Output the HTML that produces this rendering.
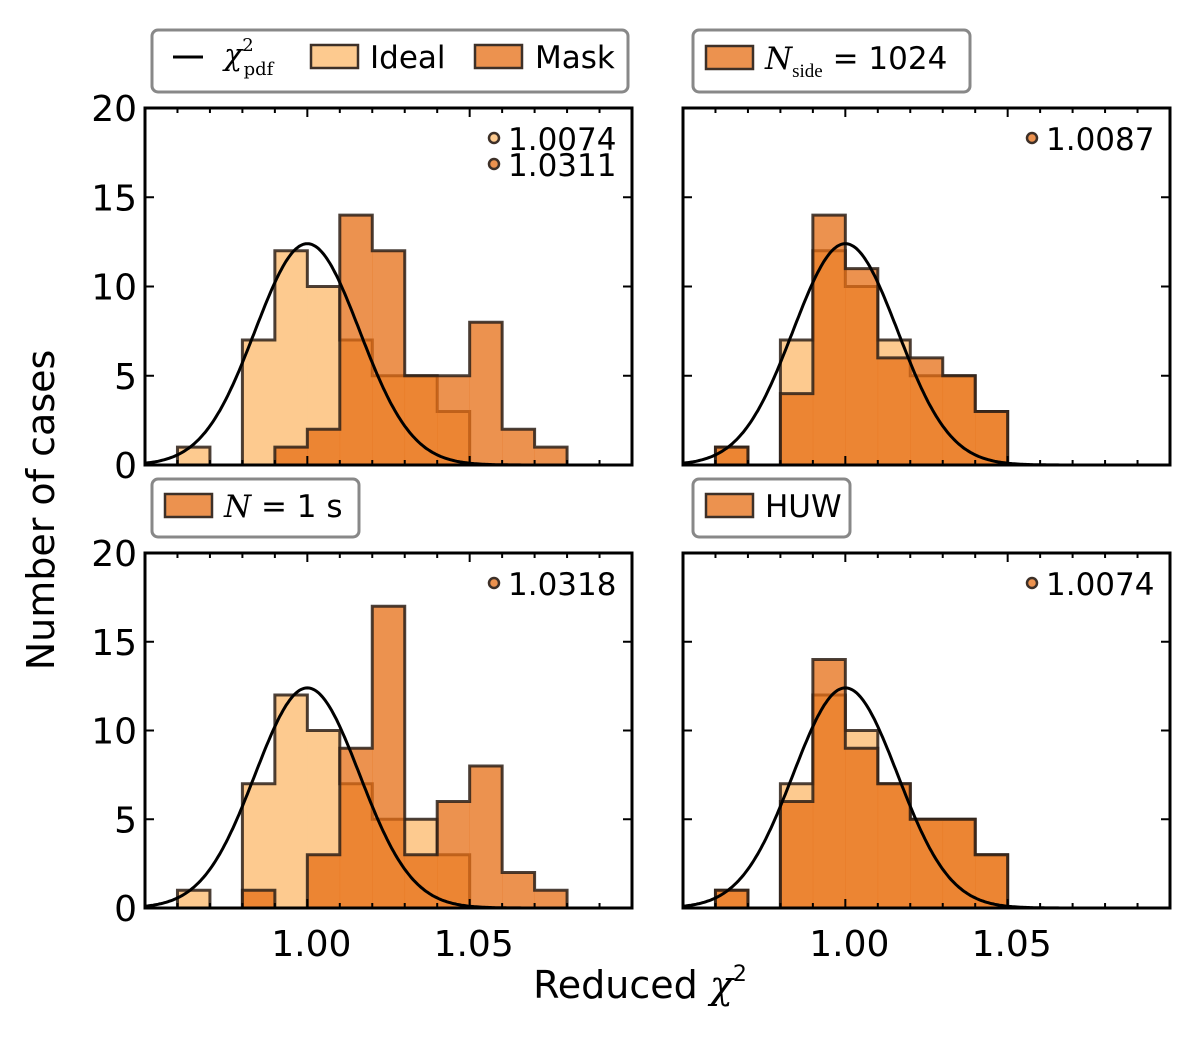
<!DOCTYPE html>
<html><head><meta charset="utf-8"><style>
body{margin:0;background:#fff;}
svg text{font-family:"DejaVu Sans","Liberation Sans",sans-serif;fill:#000;}
.serif{font-family:"DejaVu Serif","Liberation Serif",serif;font-style:italic;}
</style></head><body>
<svg id="fig" width="1200" height="1033" viewBox="0 0 1200 1033" xmlns="http://www.w3.org/2000/svg">
<rect width="1200" height="1033" fill="#fff"/>
<text x="54" y="510" font-size="38" text-anchor="middle" transform="rotate(-90 54 510)">Number of cases</text>
<text x="640" y="998" font-size="38" text-anchor="middle">Reduced <tspan class="serif">χ</tspan><tspan font-size="22" dy="-17">2</tspan></text>
<g id="panels"></g>
<g>
<rect x="152" y="30" width="476" height="62" rx="6" fill="#fff" stroke="#888" stroke-width="3"/>
<line x1="173" y1="57" x2="203" y2="57" stroke="#000" stroke-width="3"/>
<text x="224" y="65" font-size="30" class="serif">χ<tspan font-size="18" dy="-14" font-style="normal">2</tspan><tspan font-size="18" dx="-10" dy="24" font-style="normal">pdf</tspan></text>
<rect x="311" y="45" width="47" height="23" fill="#fdca8f" stroke="#3d3028" stroke-width="2.5"/>
<text x="370" y="68" font-size="31">Ideal</text>
<rect x="475" y="45" width="47" height="23" fill="#ec924f" stroke="#3d3028" stroke-width="2.5"/>
<text x="535" y="68" font-size="31">Mask</text>
</g>
<g>
<rect x="693" y="30" width="277" height="62" rx="6" fill="#fff" stroke="#888" stroke-width="3"/>
<rect x="706" y="46" width="47" height="23" fill="#ec924f" stroke="#3d3028" stroke-width="2.5"/>
<text x="765" y="69" font-size="31"><tspan class="serif">N</tspan><tspan font-size="19" dy="8" font-family="Liberation Serif">side</tspan><tspan dy="-8"> = 1024</tspan></text>
</g>
<g>
<rect x="152" y="479" width="207" height="58" rx="6" fill="#fff" stroke="#888" stroke-width="3"/>
<rect x="165" y="494" width="47" height="23" fill="#ec924f" stroke="#3d3028" stroke-width="2.5"/>
<text x="224" y="517" font-size="31"><tspan class="serif">N</tspan> = 1 s</text>
</g>
<g>
<rect x="693" y="479" width="157" height="58" rx="6" fill="#fff" stroke="#888" stroke-width="3"/>
<rect x="706" y="494" width="47" height="23" fill="#ec924f" stroke="#3d3028" stroke-width="2.5"/>
<text x="765" y="517" font-size="31">HUW</text>
</g>
</svg>
<script>
const binEdges=[0.96,0.97,0.98,0.99,1.00,1.01,1.02,1.03,1.04,1.05,1.06,1.07,1.08];
const idealTL=[1,0,7,12,10,7,5,5,3,0,0,0];
const maskTL=[0,0,0,1,2,14,12,5,5,8,2,1];
const idealTR=[1,0,7,12,10,7,5,5,3,0,0,0];
const maskTR=[1,0,4,14,11,6,6,5,3,0,0,0];
const idealBL=[1,0,7,12,10,7,5,5,3,0,0,0];
const maskBL=[0,0,1,0,3,9,17,3,6,8,2,1];
const idealBR=[1,0,7,12,10,7,5,5,3,0,0,0];
const maskBR=[1,0,6,14,9,7,5,5,3,0,0,0];
const annTL=["1.0074","1.0311"];
const annTR=["1.0087"];
const annBL=["1.0318"];
const annBR=["1.0074"];
const yTicks=[0,5,10,15,20];
const xTickLabels=[1.00,1.05];
const pdfMean=1.0, pdfSigma=0.0161, pdfPeak=12.4;

const NS="http://www.w3.org/2000/svg";
const root=document.getElementById('panels');
function mk(tag,attrs,parent){const e=document.createElementNS(NS,tag);for(const k in attrs)e.setAttribute(k,attrs[k]);parent.appendChild(e);return e;}
const panels=[
 {x0:145,x1:632,y0:108,y1:465,ideal:idealTL,mask:maskTL,ann:annTL,leftLabels:true,bottomLabels:false,name:'top-left',two:true},
 {x0:683,x1:1170,y0:108,y1:465,ideal:idealTR,mask:maskTR,ann:annTR,leftLabels:false,bottomLabels:false,name:'top-right'},
 {x0:145,x1:632,y0:553,y1:908,ideal:idealBL,mask:maskBL,ann:annBL,leftLabels:true,bottomLabels:true,name:'bottom-left'},
 {x0:683,x1:1170,y0:553,y1:908,ideal:idealBR,mask:maskBR,ann:annBR,leftLabels:false,bottomLabels:true,name:'bottom-right'}
];
panels.forEach(p=>{
 const g=mk('g',{},root);
 
 
 const X=v=>p.x0+(v-0.95)/(0.15)*(p.x1-p.x0);
 const Y=v=>p.y1-v/20*(p.y1-p.y0);
 function hist(vals,fill,nm){
  // fill bars without outline
  for(let i=0;i<vals.length;i++){
   if(vals[i]<=0)continue;
   const r=mk('rect',{x:X(binEdges[i]),y:Y(vals[i]),width:X(binEdges[i+1])-X(binEdges[i])+0.3,height:Y(0)-Y(vals[i]),fill:fill},g);
   
   
  }
  // step outline
  let d='M'+X(binEdges[0])+','+Y(0);
  for(let i=0;i<vals.length;i++){d+='L'+X(binEdges[i])+','+Y(vals[i])+'L'+X(binEdges[i+1])+','+Y(vals[i]);}
  d+='L'+X(binEdges[vals.length])+','+Y(0);
  const o=mk('path',{d:d,fill:'none',stroke:'rgba(45,32,24,0.85)','stroke-width':3,'stroke-linejoin':'miter'},g);
  
  
 }
 hist(p.ideal,'#fdca8f','ideal');
 hist(p.mask,'rgba(230,110,20,0.75)','mask');
 let d='';
 for(let v=0.95;v<=1.1;v+=0.0005){const y=pdfPeak*Math.exp(-0.5*Math.pow((v-pdfMean)/pdfSigma,2));d+=(d?'L':'M')+X(v).toFixed(1)+','+Y(y).toFixed(1);}
 const c=mk('path',{d:d,fill:'none',stroke:'#000','stroke-width':3},g);
 
 
 const f=mk('rect',{x:p.x0,y:p.y0,width:p.x1-p.x0,height:p.y1-p.y0,fill:'none',stroke:'#000','stroke-width':3},g);
 
 
 for(let k=0;k<=15;k++){
  const v=0.95+k*0.01;const x=X(v);const major=(k%5===0);const L=major?9:5;
  mk('line',{x1:x,y1:p.y1,x2:x,y2:p.y1-L,stroke:'#000','stroke-width':2},g);
  mk('line',{x1:x,y1:p.y0,x2:x,y2:p.y0+L,stroke:'#000','stroke-width':2},g);
 }
 if(p.bottomLabels){xTickLabels.forEach(v=>{const t=mk('text',{x:X(v)+4,y:p.y1+48,'font-size':36,'text-anchor':'middle'},g);t.textContent=v.toFixed(2);});}
 yTicks.forEach(v=>{
  mk('line',{x1:p.x0,y1:Y(v),x2:p.x0+9,y2:Y(v),stroke:'#000','stroke-width':2},g);
  mk('line',{x1:p.x1,y1:Y(v),x2:p.x1-9,y2:Y(v),stroke:'#000','stroke-width':2},g);
  if(p.leftLabels){const t=mk('text',{x:p.x0-8,y:Y(v)+13,'font-size':36,'text-anchor':'end'},g);t.textContent=v;}
 });
 p.ann.forEach((s,i)=>{
  const yy=p.y0+30+i*26;
  const fill=(p.two&&i===0)?'#fdca8f':'#ec924f';
  const m=mk('circle',{cx:p.x1-138,cy:yy,r:5,fill:fill,stroke:'#3d3028','stroke-width':2.5},g);
  
  
  const t=mk('text',{x:p.x1-124,y:yy+12,'font-size':31},g);
  t.textContent=s;
  
  
 });
});
</script>
</body></html>
